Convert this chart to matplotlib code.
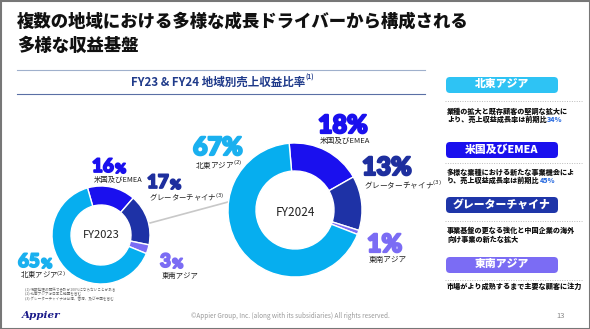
import matplotlib.pyplot as plt
import matplotlib.patheffects as pe
from matplotlib.patches import FancyBboxPatch, Rectangle

plt.rcParams['font.family'] = ['Noto Sans CJK JP', 'DejaVu Sans']

W, H = 590, 329

# data
regions = ['米国及びEMEA', 'グレーターチャイナ', '東南アジア', '北東アジア']
fy23 = [16, 17, 3, 65]
fy24 = [18, 13, 1, 67]
colors = ['#1a10ee', '#1e32a6', '#7b6cf4', '#06aeef']
label_colors = ['#1a10ee', '#1e2f9e', '#7b6cf4', '#1ab0ef']
growth = {'北東アジア': '34%', '米国及びEMEA': '45%'}

def Y(y):
    return H - y

fig = plt.figure(figsize=(W / 100, H / 100), dpi=100)
ax = fig.add_axes([0, 0, 1, 1])

# donuts
ax.pie(fy23, colors=colors, startangle=106, counterclock=False, radius=49,
       center=(101, Y(235)), wedgeprops=dict(width=19, edgecolor='white', linewidth=1))
ax.pie(fy24, colors=colors, startangle=95, counterclock=False, radius=67,
       center=(295, Y(210)), wedgeprops=dict(width=28, edgecolor='white', linewidth=1))
ax.set_xlim(0, W)
ax.set_ylim(0, H)
ax.set_aspect('equal')
ax.axis('off')

ax.plot([150, 228], [Y(223), Y(202)], color='#c8c8c8', lw=1.2, zorder=0)
ax.text(101, Y(235), 'FY2023', ha='center', va='center', fontsize=8, color='#222')
ax.text(295, Y(212), 'FY2024', ha='center', va='center', fontsize=8.5, color='#222')

# titles
ax.text(17, Y(22), '複数の地域における多様な成長ドライバーから構成される', fontsize=12.5,
        fontweight='black', va='center', color='#111')
ax.text(17, Y(46), '多様な収益基盤', fontsize=12.5, fontweight='black', va='center', color='#111')
ax.plot([17, 425], [Y(70), Y(70)], color='#9fb0cc', lw=0.8)
ax.plot([17, 425], [Y(94), Y(94)], color='#5a6fa5', lw=0.8)
t = ax.text(218, Y(82), 'FY23 & FY24 地域別売上収益比率', fontsize=8.3, fontweight='bold',
            ha='center', va='center', color='#1f3a8a')
ax.annotate('(1)', xy=(1, 0.6), xycoords=t, fontsize=4.5, color='#1f3a8a',
            fontweight='bold', va='bottom')

# percentage labels
pct_font = dict(family=['Lato', 'DejaVu Sans'], fontweight='black')
fy23_pos = [(92, 172, 180), (147, 188, 197), (160, 267, 276), (18, 267, 276)]
fy24_pos = [(318, 133, 141), (362, 175, 185), (367, 252, 260), (193, 155, 165)]
subs = ['米国及びEMEA', 'グレーターチャイナ$^{(3)}$', '東南アジア', '北東アジア$^{(2)}$']
for i in range(4):
    c = label_colors[i]
    fx = [pe.withStroke(linewidth=1.3, foreground=c)]
    x, yb, ys = fy23_pos[i]
    t = ax.text(x, Y(yb), str(fy23[i]), fontsize=13.5, color=c, path_effects=fx, **pct_font)
    ax.annotate('%', xy=(1, 0), xycoords=t, fontsize=9.5, color=c, xytext=(1, 0),
                textcoords='offset points', va='bottom', path_effects=fx, **pct_font)
    ax.text(x + 2, Y(ys), subs[i], fontsize=5.3, va='center', color='#222')
    x, yb, ys = fy24_pos[i]
    ax.text(x, Y(yb), str(fy24[i]) + '%', fontsize=18, color=c,
            path_effects=[pe.withStroke(linewidth=1.6, foreground=c)], **pct_font)
    ax.text(x + 2, Y(ys), subs[i], fontsize=5.5, va='center', color='#222')

# footnotes
notes = ['(1) 端数処理の関係で合計が100%にならないことがある',
         '(2) 北東アジアは日本と韓国を含む',
         '(3) グレーターチャイナは台湾、香港、及び中国を含む']
for k, n in enumerate(notes):
    ax.text(25, Y(290 + 4.6 * k), n, fontsize=2.6, va='center', color='#666')

ax.text(22, Y(316), 'Appier', fontsize=7.5, fontweight='bold', style='italic',
        family='DejaVu Serif', va='center', color='#1a1a8a')
ax.text(290, Y(316), '©Appier Group, Inc. (along with its subsidiaries) All rights reserved.',
        fontsize=4.6, ha='center', va='center', color='#999')
ax.text(561, Y(316), '13', fontsize=5.5, ha='center', va='center', color='#888')

# right panel
box_colors = ['#2ec3f4', '#1a10ee', '#1e35a8', '#7b6cf4']
box_tops = [77, 142, 197, 257]
dot_ys = [101, 163, 221, 280]
line_ys = [[111, 119], [172, 180], [230, 239], [286]]
names = ['北東アジア', '米国及びEMEA', 'グレーターチャイナ', '東南アジア']
descs = [['業種の拡大と既存顧客の堅調な拡大に', 'より、売上収益成長率は前期比'],
         ['多様な業種における新たな事業機会によ', 'り、売上収益成長率は前期比'],
         ['事業基盤の更なる強化と中国企業の海外', '向け事業の新たな拡大'],
         ['市場がより成熟するまで主要な顧客に注力']]
for k in range(4):
    top = box_tops[k]
    ax.add_patch(FancyBboxPatch((447, Y(top + 15)), 110, 14,
                                boxstyle='round,pad=1,rounding_size=4',
                                fc=box_colors[k], ec='none'))
    ax.text(502, Y(top + 7.5), names[k], fontsize=7.8, fontweight='black',
            color='white', ha='center', va='center')
    ax.plot([445, 582], [Y(dot_ys[k]), Y(dot_ys[k])], color='#bbbbbb', lw=0.7,
            ls=(0, (1, 1.5)))
    for j, line in enumerate(descs[k]):
        tt = ax.text(447, Y(line_ys[k][j]), line, fontsize=5.1, fontweight='black',
                     va='center', color='#111')
        if names[k] in growth and j == 1:
            ax.annotate(growth[names[k]], xy=(1, 0), xycoords=tt, fontsize=5.1,
                        fontweight='black', color='#2f6fe0', va='bottom')

# slide border
ax.add_patch(Rectangle((0.5, 0.5), W - 1, H - 1, fill=False, ec='#777', lw=1.5))

fig.savefig('out.png', dpi=100)
